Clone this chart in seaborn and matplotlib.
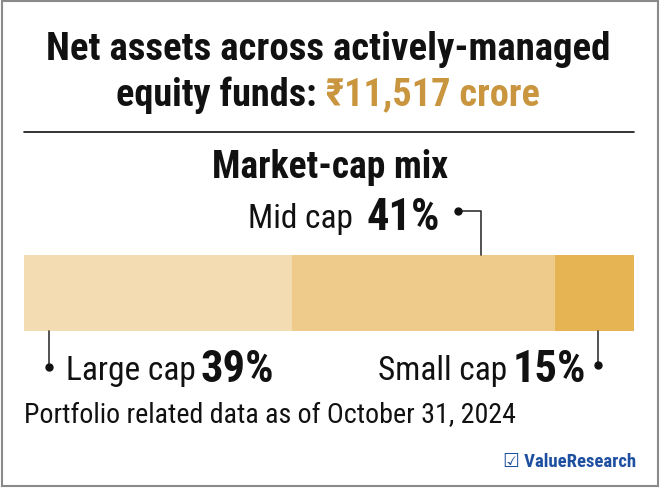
import matplotlib
matplotlib.use("Agg")
import matplotlib.pyplot as plt
import pandas as pd
import seaborn as sns

# data
segments = ["Large cap", "Mid cap", "Small cap"]
share_pct = [39, 41, 15]            # labelled shares
bar_width_pct = [44, 43, 13]        # segment widths as drawn in the bar
seg_colors = ["#F4DCB2", "#EECA8B", "#E6B453"]
total_assets = "₹11,517 crore"

W, H = 660, 489
COND = ["Roboto Condensed", "Archivo Narrow", "Asap Condensed", "DejaVu Sans"]
DARK = "#111111"
GOLD = "#C9963F"

sns.set_theme(style="white")
plt.rcParams["font.family"] = COND

fig = plt.figure(figsize=(W / 100, H / 100), dpi=100)
fig.patch.set_facecolor("white")

# stacked bar (drawn largest cumulative first)
bar_left, bar_right, bar_top, bar_bottom = 24, 634, 256, 332
ax = fig.add_axes([bar_left / W, 1 - bar_bottom / H, (bar_right - bar_left) / W, (bar_bottom - bar_top) / H])
cum = pd.Series(bar_width_pct).cumsum().tolist()
for i in reversed(range(len(segments))):
    df = pd.DataFrame({"mix": ["all"], "pct": [cum[i]]})
    sns.barplot(data=df, x="pct", y="mix", orient="h", color=seg_colors[i],
                width=1.0, saturation=1, ax=ax, edgecolor="none")
ax.set_xlim(0, 100)
ax.set_ylim(0.5, -0.5)
ax.axis("off")

# overlay in pixel coordinates
ov = fig.add_axes([0, 0, 1, 1], zorder=5)
ov.set_xlim(0, W)
ov.set_ylim(H, 0)
ov.axis("off")
ov.patch.set_alpha(0)

# border
ov.add_patch(plt.Rectangle((1.5, 1.5), W - 4, H - 4, fill=False, edgecolor="#8a8a8a", lw=1.5))

# title
ov.text(328, 49, "Net assets across actively-managed", ha="center", va="center",
        fontsize=28, fontweight="bold", color=DARK)
t1 = ov.text(328, 95, "equity funds: ", ha="right", va="center",
             fontsize=27.5, fontweight="bold", color=DARK)
fig.canvas.draw()
bb1 = t1.get_window_extent()
t2 = ov.text(328, 95, total_assets, ha="left", va="center",
             fontsize=27.5, fontweight="bold", color=GOLD)
bb2 = t2.get_window_extent()
shift = (bb1.width + bb2.width) / 2 - bb1.width
t1.set_x(328 - shift)
t2.set_x(328 - shift)

ov.plot([24, 634], [133, 133], color=DARK, lw=1.2)
ov.text(330, 167, "Market-cap mix", ha="center", va="center",
        fontsize=27, fontweight="bold", color=DARK)

# labels
def label(x, y, name, pct, gap):
    a = ov.text(x, y, name, ha="left", va="center", fontsize=24, color=DARK)
    fig.canvas.draw()
    w = a.get_window_extent().width
    ov.text(x + w + gap, y - 1, f"{pct}%", ha="left", va="center", fontsize=32,
            fontweight="bold", color=DARK)

label(248, 219, segments[1], share_pct[1], 14)
label(66, 371, segments[0], share_pct[0], 5)
label(378, 371, segments[2], share_pct[2], 5)

# connectors
ov.plot([458, 481, 481], [212, 212, bar_top], color="#333333", lw=1.2)
ov.plot([458], [212], "o", color=DARK, ms=5)
ov.plot([49, 49], [bar_bottom, 368], color="#333333", lw=1.2)
ov.plot([49], [368], "o", color=DARK, ms=5)
ov.plot([598, 598], [bar_bottom, 366], color="#333333", lw=1.2)
ov.plot([598], [366], "o", color=DARK, ms=5)

ov.text(24, 416, "Portfolio related data as of October 31, 2024", ha="left", va="center",
        fontsize=20.2, color=DARK)

# logo
ov.text(636, 462, "☑ ValueResearch", ha="right", va="center", fontsize=13.5,
        fontweight="bold", color="#1E4FA0", family=["Roboto Condensed", "DejaVu Sans"])

fig.savefig("out.png", dpi=100, facecolor="white")
